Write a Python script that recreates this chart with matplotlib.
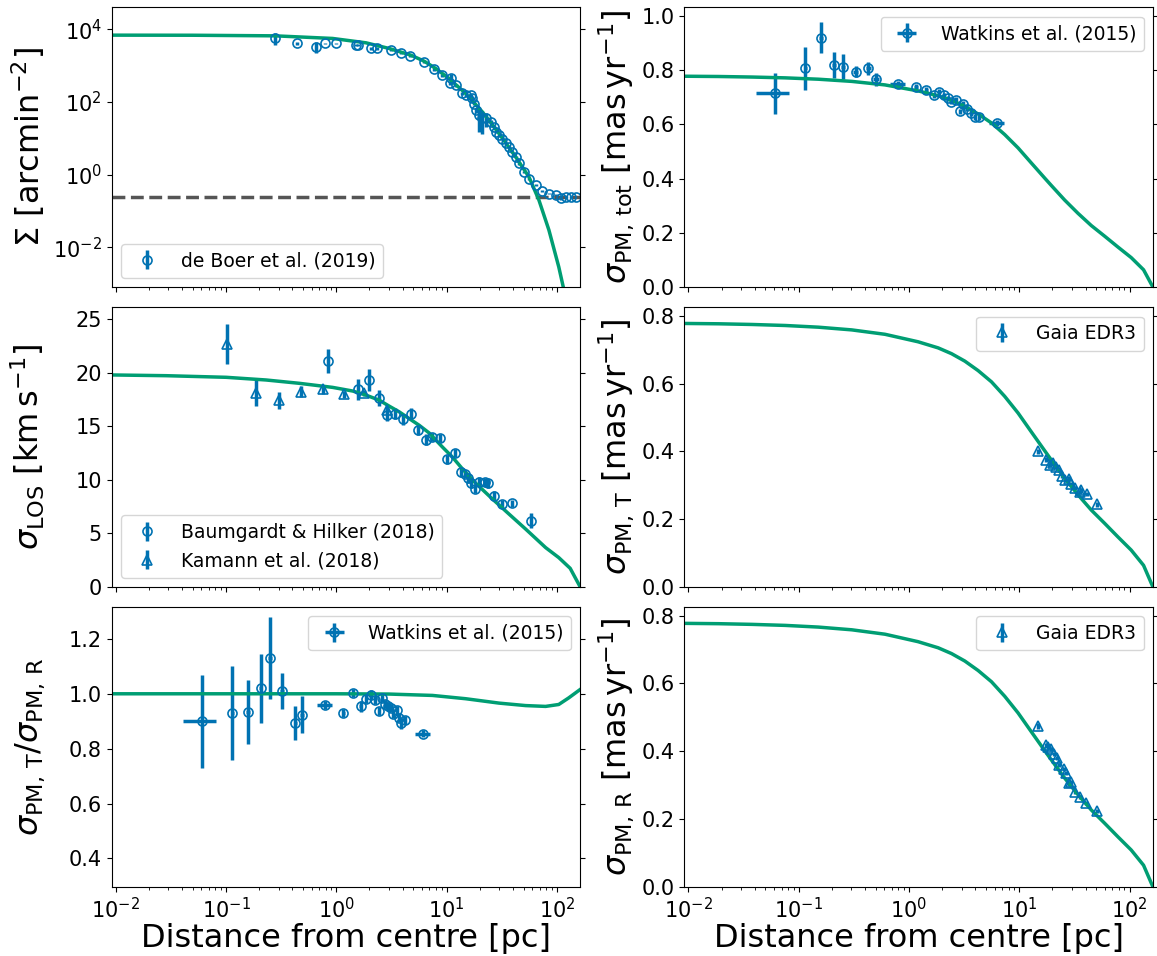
import matplotlib
matplotlib.use("Agg")
import matplotlib.pyplot as plt
from matplotlib.ticker import FixedLocator, NullLocator

blue = "#0072B2"
green = "#009E73"

# de Boer et al. (2019) surface density
boer_r = [0.279, 0.443, 0.655, 0.79, 1.0, 1.51, 1.57, 2.06, 2.33, 3.13, 3.90, 4.68, 6.26, 7.7, 9.17,
          10.9, 10.7, 12.1, 13.7, 14.9, 16.5, 17.0, 17.7, 18.3, 19.7, 21.1, 22.6, 25.1, 26.9, 27.8,
          29.9, 32.0, 34.3, 36.8, 39.4, 42.2, 45.3, 50.2, 55.8, 64.1, 73.6, 84.7, 97.3, 108, 120, 133, 148]
boer_sig = [5760, 4040, 3270, 4040, 4040, 3730, 3640, 2950, 2950, 2640, 2230, 1810, 1260, 780, 543,
            458, 333, 288, 170, 152, 152, 131, 90, 59, 43, 35, 35, 28, 20.6, 15.0,
            12.1, 9.8, 7.45, 5.78, 4.22, 3.07, 2.02, 1.19, 0.78, 0.51, 0.356, 0.30, 0.271, 0.22, 0.245, 0.245, 0.235]
boer_err = [2000, 300, 1100, 250, 250, 250, 250, 200, 200, 150, 120, 100, 80, 60, 50,
            120, 40, 30, 20, 15, 15, 15, 10, 10, 28, 22, 15, 4, 2, 1.5,
            1, 0.8, 0.6, 0.4, 0.3, 0.2, 0.15, 0.08, 0.05, 0.03, 0.02, 0.015, 0.015, 0.015, 0.015, 0.015, 0.015]
sd_bg = 0.237

# Watkins et al. (2015)
wt_r = [0.061, 0.115, 0.160, 0.21, 0.253, 0.329, 0.43, 0.501, 0.794, 1.16, 1.44, 1.68, 1.89, 2.08,
        2.28, 2.43, 2.66, 2.88, 3.11, 3.35, 3.62, 3.96, 4.28, 6.29]
wt_xerr = [0.02, 0.004, 0.006, 0.008, 0.01, 0.02, 0.02, 0.03, 0.12, 0.04, 0.04, 0.04, 0.04, 0.04,
           0.04, 0.04, 0.04, 0.04, 0.04, 0.04, 0.04, 0.04, 0.04, 0.95]
wt_tot = [0.714, 0.806, 0.919, 0.818, 0.812, 0.793, 0.806, 0.765, 0.748, 0.738, 0.726, 0.707, 0.72, 0.707,
          0.695, 0.683, 0.689, 0.648, 0.674, 0.658, 0.642, 0.627, 0.625, 0.605]
wt_tot_err = [0.075, 0.08, 0.057, 0.047, 0.046, 0.02, 0.025, 0.025, 0.01, 0.01, 0.01, 0.01, 0.01, 0.01,
              0.01, 0.01, 0.01, 0.01, 0.01, 0.01, 0.01, 0.01, 0.01, 0.01]

wr_r = [0.0604, 0.114, 0.159, 0.206, 0.249, 0.323, 0.426, 0.489, 0.79, 1.16, 1.42, 1.66, 1.86,
        2.06, 2.25, 2.42, 2.59, 2.78, 2.93, 3.12, 3.28, 3.59, 3.72, 3.90, 4.21, 6.12]
wr_xerr = [0.02, 0.004, 0.006, 0.008, 0.01, 0.012, 0.015, 0.02, 0.12, 0.04, 0.04, 0.04, 0.04,
           0.04, 0.04, 0.04, 0.04, 0.04, 0.04, 0.04, 0.04, 0.04, 0.04, 0.04, 0.04, 0.95]
wr_val = [0.900, 0.930, 0.933, 1.020, 1.131, 1.009, 0.894, 0.924, 0.960, 0.930, 1.004, 0.955, 0.982,
          0.997, 0.978, 0.936, 0.985, 0.964, 0.954, 0.949, 0.927, 0.942, 0.913, 0.893, 0.905, 0.855]
wr_err = [0.17, 0.17, 0.116, 0.125, 0.15, 0.066, 0.061, 0.067, 0.015, 0.015, 0.015, 0.02, 0.015,
          0.015, 0.015, 0.015, 0.015, 0.015, 0.015, 0.015, 0.015, 0.015, 0.015, 0.02, 0.015, 0.012]

# line-of-sight dispersion
bh_r = [0.84, 1.56, 1.99, 2.42, 2.88, 3.42, 4.04, 4.74, 5.56, 6.56, 7.44, 8.67, 10.0, 11.9, 13.4,
        14.6, 15.7, 16.8, 18.1, 19.7, 22.1, 23.9, 26.9, 32.0, 39.4, 58.5]
bh_val = [21.09, 18.43, 19.3, 17.65, 16.09, 16.18, 15.65, 16.18, 14.68, 13.75, 14.0, 13.9, 11.9, 12.49, 10.71,
          10.56, 10.15, 9.68, 9.15, 9.84, 9.78, 9.68, 8.53, 7.75, 7.81, 6.19]
bh_err = [1.15, 1.0, 1.05, 0.75, 0.65, 0.5, 0.5, 0.5, 0.5, 0.5, 0.4, 0.4, 0.4, 0.4, 0.4,
          0.4, 0.4, 0.4, 0.4, 0.4, 0.4, 0.4, 0.4, 0.35, 0.35, 0.7]
ka_r = [0.102, 0.187, 0.30, 0.479, 0.751, 1.18, 1.79, 2.91]
ka_val = [22.65, 18.12, 17.43, 18.21, 18.43, 17.96, 18.12, 16.5]
ka_err = [1.85, 1.2, 0.8, 0.5, 0.4, 0.3, 0.3, 0.4]

# Gaia EDR3
gt_r = [14.7, 17.4, 19.2, 20.3, 21.4, 22.7, 24.6, 26.1, 28.2, 29.7, 32.1, 35.2, 36.6, 41.3, 50.8]
gt_val = [0.400, 0.376, 0.359, 0.366, 0.354, 0.344, 0.327, 0.317, 0.320, 0.305, 0.293, 0.280, 0.287, 0.274, 0.244]
gt_err = [0.008, 0.007, 0.006, 0.006, 0.006, 0.006, 0.006, 0.006, 0.006, 0.006, 0.006, 0.006, 0.006, 0.006, 0.007]
gr_r = [14.7, 17.4, 18.4, 19.5, 20.8, 21.9, 23.1, 25.2, 26.8, 28.2, 29.7, 32.1, 35.4, 40.4, 50.8]
gr_val = [0.474, 0.418, 0.413, 0.406, 0.392, 0.379, 0.359, 0.347, 0.337, 0.305, 0.310, 0.280, 0.266, 0.248, 0.224]
gr_err = [0.008, 0.007, 0.006, 0.006, 0.006, 0.006, 0.006, 0.006, 0.006, 0.006, 0.006, 0.006, 0.006, 0.006, 0.007]

# model curves
sd_mod_r = [0.0092, 0.05, 0.279, 0.927, 1.86, 3.02, 4.74, 6.26, 7.98, 10.5, 14.9, 21.1, 29.9, 42.3,
            55.8, 68.7, 84.7, 104, 116]
sd_mod = [6840, 6800, 6550, 5550, 4210, 2940, 1930, 1318, 828, 440, 170, 53, 13.5, 3.07,
          0.865, 0.20, 0.0297, 0.0029, 6.6e-4]
los_mod_r = [0.0091, 0.0288, 0.1005, 0.231, 0.462, 0.927, 1.41, 1.86, 2.45, 3.02, 3.72, 4.58, 5.64,
             6.95, 9.17, 11.3, 13.9, 18.4, 26.0, 36.8, 52.1, 79.1, 104, 132, 163]
los_mod = [19.78, 19.71, 19.56, 19.31, 19.0, 18.62, 18.28, 17.9, 17.43, 16.87, 16.34, 15.71, 15.09,
           14.37, 13.06, 12.12, 11.03, 9.68, 8.22, 6.81, 5.41, 3.68, 2.75, 1.75, 0.0]
pm_mod_r = [0.0091, 0.0188, 0.0377, 0.0755, 0.151, 0.303, 0.607, 1.21, 1.84, 2.43, 3.21, 4.24, 5.60,
            7.39, 9.76, 12.9, 17.0, 19.5, 25.8, 34.1, 45.0, 59.4, 78.4, 103.5, 134, 163]
pm_mod = [0.777, 0.776, 0.774, 0.771, 0.766, 0.758, 0.745, 0.723, 0.705, 0.688, 0.666, 0.638, 0.605,
          0.562, 0.513, 0.457, 0.402, 0.375, 0.321, 0.272, 0.227, 0.188, 0.148, 0.109, 0.064, 0.0]
ratio_mod_r = [0.0091, 1.0, 3.0, 7.45, 14.9, 29.9, 52.1, 79, 104, 128, 163]
ratio_mod = [1.0, 1.0, 0.999, 0.994, 0.982, 0.966, 0.957, 0.954, 0.961, 0.985, 1.016]


plt.rcParams["font.size"] = 15
plt.rcParams["ytick.right"] = True

fig, axs = plt.subplots(3, 2, sharex=True, figsize=(11.57, 9.56), dpi=100)
fig.subplots_adjust(left=0.0965, right=0.9965, bottom=0.0722, top=0.9924, hspace=0.0714, wspace=0.222)

eb = dict(color=blue, mfc="none", ms=6.5, mew=1.2, elinewidth=2.5, capsize=0, ls="none")
lw = 2.5
xlab = "Distance from centre [pc]"
lab_fs = 23
leg_fs = 13.5

# surface density
ax = axs[0, 0]
ax.errorbar(boer_r, boer_sig, yerr=boer_err, fmt="o", label="de Boer et al. (2019)", **eb)
ax.axhline(sd_bg, color="#555555", ls="--", lw=lw)
ax.plot(sd_mod_r, sd_mod, color=green, lw=lw)
ax.set_xscale("log")
ax.set_yscale("log")
ax.set_ylim(8e-4, 4e4)
ax.yaxis.set_major_locator(FixedLocator([1e-2, 1, 1e2, 1e4]))
ax.yaxis.set_minor_locator(NullLocator())
ax.set_ylabel(r"$\Sigma\ [\rm arcmin^{-2}]$", fontsize=lab_fs)
ax.legend(loc="lower left", fontsize=leg_fs)

# total PM dispersion
ax = axs[0, 1]
ax.errorbar(wt_r, wt_tot, yerr=wt_tot_err, xerr=wt_xerr, fmt="o", label="Watkins et al. (2015)", **eb)
ax.plot(pm_mod_r, pm_mod, color=green, lw=lw)
ax.set_ylim(0, 1.031)
ax.set_ylabel(r"$\sigma_{\rm PM,\,tot}\ [\rm mas\,yr^{-1}]$", fontsize=lab_fs)
ax.legend(loc="upper right", fontsize=leg_fs)

# LOS dispersion
ax = axs[1, 0]
ax.errorbar(bh_r, bh_val, yerr=bh_err, fmt="o", label="Baumgardt & Hilker (2018)", **eb)
ax.errorbar(ka_r, ka_val, yerr=ka_err, fmt="^", label="Kamann et al. (2018)", **eb)
ax.plot(los_mod_r, los_mod, color=green, lw=lw)
ax.set_ylim(0, 26.1)
ax.set_ylabel(r"$\sigma_{\rm LOS}\ [\rm km\,s^{-1}]$", fontsize=lab_fs)
ax.legend(loc="lower left", fontsize=leg_fs)

# tangential PM
ax = axs[1, 1]
ax.errorbar(gt_r, gt_val, yerr=gt_err, fmt="^", label="Gaia EDR3", **eb)
ax.plot(pm_mod_r, pm_mod, color=green, lw=lw)
ax.set_ylim(0, 0.825)
ax.set_ylabel(r"$\sigma_{\rm PM,\,T}\ [\rm mas\,yr^{-1}]$", fontsize=lab_fs)
ax.legend(loc="upper right", fontsize=leg_fs)

# anisotropy ratio
ax = axs[2, 0]
ax.errorbar(wr_r, wr_val, yerr=wr_err, xerr=wr_xerr, fmt="o", label="Watkins et al. (2015)", **eb)
ax.plot(ratio_mod_r, ratio_mod, color=green, lw=lw)
ax.set_ylim(0.296, 1.316)
ax.set_yticks([0.4, 0.6, 0.8, 1.0, 1.2])
ax.set_ylabel(r"$\sigma_{\rm PM,\,T}/\sigma_{\rm PM,\,R}$", fontsize=lab_fs)
ax.set_xlabel(xlab, fontsize=lab_fs, labelpad=1)
ax.legend(loc="upper right", fontsize=leg_fs)

# radial PM
ax = axs[2, 1]
ax.errorbar(gr_r, gr_val, yerr=gr_err, fmt="^", label="Gaia EDR3", **eb)
ax.plot(pm_mod_r, pm_mod, color=green, lw=lw)
ax.set_ylim(0, 0.825)
ax.set_ylabel(r"$\sigma_{\rm PM,\,R}\ [\rm mas\,yr^{-1}]$", fontsize=lab_fs)
ax.set_xlabel(xlab, fontsize=lab_fs, labelpad=1)
ax.legend(loc="upper right", fontsize=leg_fs)

axs[0, 0].set_xlim(0.0092, 163)
fig.align_ylabels(axs[:, 0])
fig.align_ylabels(axs[:, 1])

plt.savefig("out.png", dpi=100)
